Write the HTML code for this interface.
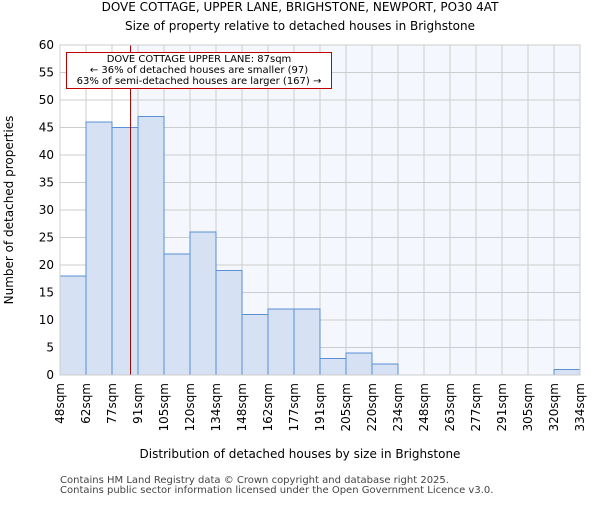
<!DOCTYPE html>
<html><head><meta charset="utf-8"><style>body{margin:0;background:#fff}svg{font-family:"DejaVu Sans","Liberation Sans",sans-serif}</style></head>
<body>
<svg id="chart" width="600" height="500">
<text x="300" y="11" text-anchor="middle" font-size="12">DOVE COTTAGE, UPPER LANE, BRIGHSTONE, NEWPORT, PO30 4AT</text>
<text x="300" y="30" text-anchor="middle" font-size="12">Size of property relative to detached houses in Brighstone</text>
<g id="plot"></g>
<text x="300" y="458" text-anchor="middle" font-size="12">Distribution of detached houses by size in Brighstone</text>
<text transform="translate(13,210) rotate(-90)" text-anchor="middle" font-size="12">Number of detached properties</text>
<text x="60" y="483" font-size="10" fill="#444">Contains HM Land Registry data © Crown copyright and database right 2025.</text>
<text x="60" y="493" font-size="10" fill="#444">Contains public sector information licensed under the Open Government Licence v3.0.</text>
</svg>
<script>
const categories=["48sqm","62sqm","77sqm","91sqm","105sqm","120sqm","134sqm","148sqm","162sqm","177sqm","191sqm","205sqm","220sqm","234sqm","248sqm","263sqm","277sqm","291sqm","305sqm","320sqm","334sqm"];
const binStarts=[48,62,77,91,105,120,134,148,162,177,191,205,220,234,248,263,277,291,305,320,334];
const counts=[18,46,45,47,22,26,19,11,12,12,3,4,2,0,0,0,0,0,0,1];
const yTicks=[0,5,10,15,20,25,30,35,40,45,50,55,60];
const propertySize=87;
const NS="http://www.w3.org/2000/svg";
const L=60,R=580,T=45,B=375,ymax=60;
const bw=(R-L)/counts.length;
const y=v=>B-(v/ymax)*(B-T);
const xi=i=>L+i*bw;
function xv(v){for(let i=0;i<binStarts.length-1;i++){if(v>=binStarts[i]&&v<=binStarts[i+1])return xi(i)+(v-binStarts[i])/(binStarts[i+1]-binStarts[i])*bw;}return R;}
const g=document.getElementById('plot');
function mk(t,a){const e=document.createElementNS(NS,t);for(const k in a)e.setAttribute(k,a[k]);g.appendChild(e);return e;}
const mx=xv(propertySize);
let e=mk('rect',{x:L,y:T,width:R-L,height:B-T,fill:'#fff'});


e=mk('rect',{x:mx,y:T,width:R-mx,height:B-T,fill:'#f4f7fd'});


yTicks.forEach(t=>{
 const l=mk('line',{x1:L,x2:R,y1:y(t),y2:y(t),stroke:'#ccc','stroke-width':1});
 
 
 const tx=mk('text',{x:L-6,y:y(t)+4,'text-anchor':'end','font-size':12});
 tx.textContent=t;
 
 
});
categories.forEach((c,i)=>{
 const l=mk('line',{x1:xi(i),x2:xi(i),y1:T,y2:B,stroke:'#ccc','stroke-width':1});
 
 
 const tx=mk('text',{transform:`translate(${xi(i)+4},${B+8}) rotate(-90)`,'text-anchor':'end','font-size':12});
 tx.textContent=c;
 
 
});
counts.forEach((v,i)=>{
 if(v<=0)return;
 const r=mk('rect',{x:xi(i),y:y(v),width:bw,height:B-y(v),fill:'#d6e1f3',stroke:'#5b8fd6','stroke-width':1});
 
 
});
e=mk('line',{x1:mx,x2:mx,y1:T,y2:B,stroke:'#8b0000','stroke-width':1});


e=mk('rect',{x:66.5,y:52.5,width:265,height:36,fill:'#fff',stroke:'#c00000','stroke-width':1});


["DOVE COTTAGE UPPER LANE: 87sqm","← 36% of detached houses are smaller (97)","63% of semi-detached houses are larger (167) →"].forEach((s,i)=>{
 const tx=mk('text',{x:199,y:62+i*11,'text-anchor':'middle','font-size':10});
 tx.textContent=s;
 
 
});
e=mk('rect',{x:L,y:T,width:R-L,height:B-T,fill:'none',stroke:'#ccc'});


</script>
</body></html>
